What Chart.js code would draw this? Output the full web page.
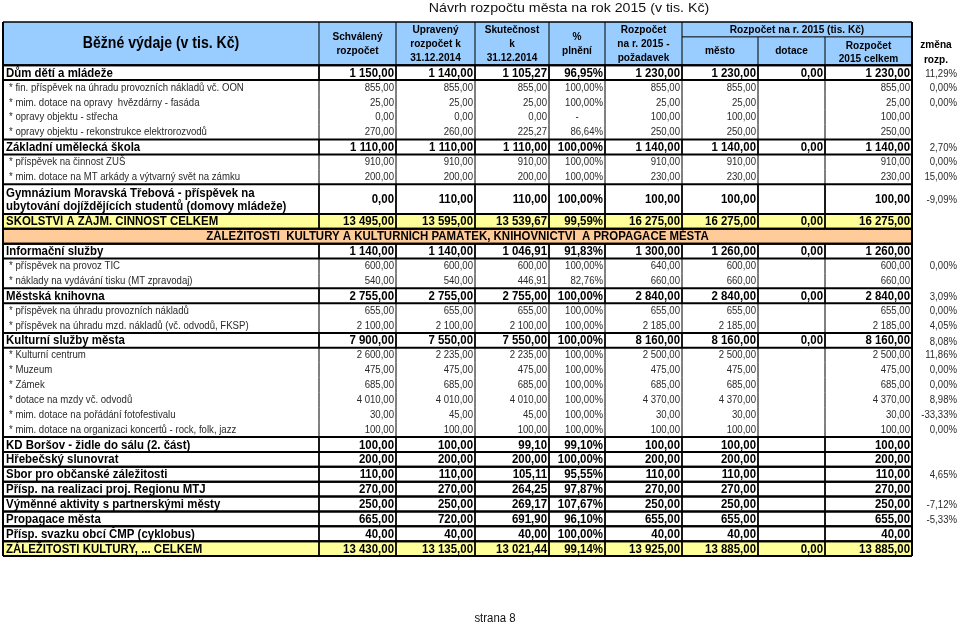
<!DOCTYPE html>
<html>
<head>
<meta charset="utf-8">
<script src="https://cdn.jsdelivr.net/npm/chart.js@4.4.0/dist/chart.umd.min.js"></script>
<style>
html, body { margin: 0; padding: 0; background: #fff; }
#wrap { width: 960px; height: 626px; }
</style>
</head>
<body>
<div id="wrap"><canvas id="tableCanvas"></canvas></div>
<script>
// row labels and row kinds (s = sub item, b = bold item, b2 = bold two lines, t = total, g = group header)
const rowLabels = [
    "Dům dětí a mládeže",
    "* fin. příspěvek na úhradu provozních nákladů vč. OON",
    "* mim. dotace na opravy  hvězdárny - fasáda",
    "* opravy objektu - střecha",
    "* opravy objektu - rekonstrukce elektrorozvodů",
    "Základní umělecká škola",
    "* příspěvek na činnost ZUŠ",
    "* mim. dotace na MT arkády a výtvarný svět na zámku",
    "Gymnázium Moravská Třebová - příspěvek na|ubytování dojíždějících studentů (domovy mládeže)",
    "ŠKOLSTVÍ A ZÁJM. ČINNOST CELKEM",
    "ZÁLEŽITOSTI  KULTURY A KULTURNÍCH PAMÁTEK, KNIHOVNICTVÍ  A PROPAGACE MĚSTA",
    "Informační služby",
    "* příspěvek na provoz TIC",
    "* náklady na vydávání tisku (MT zpravodaj)",
    "Městská knihovna",
    "* příspěvek na úhradu provozních nákladů",
    "* příspěvek na úhradu mzd. nákladů (vč. odvodů, FKSP)",
    "Kulturní služby města",
    "* Kulturní centrum",
    "* Muzeum",
    "* Zámek",
    "* dotace na mzdy vč. odvodů",
    "* mim. dotace na pořádání fotofestivalu",
    "* mim. dotace na organizaci koncertů - rock, folk, jazz",
    "KD Boršov - židle do sálu (2. část)",
    "Hřebečský slunovrat",
    "Sbor pro občanské záležitosti",
    "Přísp. na realizaci proj. Regionu MTJ",
    "Výměnné aktivity s partnerskými městy",
    "Propagace města",
    "Přísp. svazku obcí ČMP (cyklobus)",
    "ZÁLEŽITOSTI KULTURY, ... CELKEM"
];
const rowKinds = ["b","s","s","s","s","b","s","s","b2","t","g","b","s","s","b","s","s","b","s","s","s","s","s","s","b","b","b","b","b","b","b","t"];

const schvaleny  = [1150, 855, 25, 0, 270, 1110, 910, 200, 0, 13495, null, 1140, 600, 540, 2755, 655, 2100, 7900, 2600, 475, 685, 4010, 30, 100, 100, 200, 110, 270, 250, 665, 40, 13430];
const upraveny   = [1140, 855, 25, 0, 260, 1110, 910, 200, 110, 13595, null, 1140, 600, 540, 2755, 655, 2100, 7550, 2235, 475, 685, 4010, 45, 100, 100, 200, 110, 270, 250, 720, 40, 13135];
const skutecnost = [1105.27, 855, 25, 0, 225.27, 1110, 910, 200, 110, 13539.67, null, 1046.91, 600, 446.91, 2755, 655, 2100, 7550, 2235, 475, 685, 4010, 45, 100, 99.10, 200, 105.11, 264.25, 269.17, 691.90, 40, 13021.44];
const plneni     = [96.95, 100, 100, null, 86.64, 100, 100, 100, 100, 99.59, null, 91.83, 100, 82.76, 100, 100, 100, 100, 100, 100, 100, 100, 100, 100, 99.10, 100, 95.55, 97.87, 107.67, 96.10, 100, 99.14];
const pozadavek  = [1230, 855, 25, 100, 250, 1140, 910, 230, 100, 16275, null, 1300, 640, 660, 2840, 655, 2185, 8160, 2500, 475, 685, 4370, 30, 100, 100, 200, 110, 270, 250, 655, 40, 13925];
const mesto      = [1230, 855, 25, 100, 250, 1140, 910, 230, 100, 16275, null, 1260, 600, 660, 2840, 655, 2185, 8160, 2500, 475, 685, 4370, 30, 100, 100, 200, 110, 270, 250, 655, 40, 13885];
const dotace     = [0, null, null, null, null, 0, null, null, null, 0, null, 0, null, null, 0, null, null, 0, null, null, null, null, null, null, null, null, null, null, null, null, null, 0];
const celkem     = [1230, 855, 25, 100, 250, 1140, 910, 230, 100, 16275, null, 1260, 600, 660, 2840, 655, 2185, 8160, 2500, 475, 685, 4370, 30, 100, 100, 200, 110, 270, 250, 655, 40, 13885];
const zmena      = [11.29, 0, 0, null, null, 2.70, 0, 15.00, -9.09, null, null, null, 0, null, 3.09, 0, 4.05, 8.08, 11.86, 0, 0, 8.98, -33.33, 0, null, null, 4.65, null, -7.12, -5.33, null, null];

const headerTexts = [
    ["Schválený", "rozpočet"],
    ["Upravený", "rozpočet k", "31.12.2014"],
    ["Skutečnost", "k", "31.12.2014"],
    ["%", "plnění"],
    ["Rozpočet", "na r. 2015 -", "požadavek"],
    ["město"],
    ["dotace"],
    ["Rozpočet", "2015 celkem"]
];

// layout
const colEdges = [3, 319, 396, 475, 549, 605, 682, 758, 825, 912];
const zmenaRight = 957;
const headerUnits = 2.9;
const FONT = "'Liberation Sans', Arial, sans-serif";
const SQ = 0.88; // the original print is a bit condensed

function fmt(v) {
    if (v === null || v === undefined) return "";
    const parts = Math.abs(v).toFixed(2).split(".");
    const whole = parts[0].replace(/\B(?=(\d{3})+(?!\d))/g, " ");
    return (v < 0 ? "-" : "") + whole + "," + parts[1];
}

// row start positions in row units
const rowStart = [];
let u = headerUnits;
rowKinds.forEach(k => { rowStart.push(u); u += (k === "b2" ? 2 : 1); });
const totalUnits = u;

function drawText(ctx, text, x, y, align, font, color, sx) {
    ctx.save();
    ctx.font = font;
    ctx.fillStyle = color;
    ctx.textAlign = align;
    ctx.textBaseline = "middle";
    ctx.translate(x, y);
    ctx.scale(sx, 1);
    ctx.fillText(text, 0, 0);
    ctx.restore();
}

const tablePlugin = {
    id: 'tablePlugin',
    afterDraw(chart) {
        const ctx = chart.ctx;
        const xs = chart.scales.x, ys = chart.scales.y;
        const px = v => xs.getPixelForValue(v);
        const py = v => ys.getPixelForValue(v);
        const L = px(colEdges[0]), R = px(colEdges[9]);
        const bold = "bold 13px " + FONT;
        const small = "10px " + FONT;
        const head = "bold 11.5px " + FONT;

        // title
        drawText(ctx, "Návrh rozpočtu města na rok 2015 (v tis. Kč)", px(569), 8, "center", "13.5px " + FONT, "#111", 1.05);

        // backgrounds
        ctx.fillStyle = "#99CCFF";
        ctx.fillRect(L, py(0), R - L, py(headerUnits) - py(0));
        rowKinds.forEach((k, i) => {
            if (k === "t" || k === "g") {
                ctx.fillStyle = k === "t" ? "#FFFF99" : "#FFCC99";
                ctx.fillRect(L, py(rowStart[i]), R - L, py(rowStart[i] + 1) - py(rowStart[i]));
            }
        });

        // header text
        drawText(ctx, "Běžné výdaje (v tis. Kč)", (L + px(colEdges[1])) / 2, py(headerUnits * 0.5), "center", "bold 16px " + FONT, "#000", SQ);
        headerTexts.forEach((lines, c) => {
            const cx = (px(colEdges[c + 1]) + px(colEdges[c + 2])) / 2;
            let ys0;
            if (c >= 5) {
                ys0 = lines.length === 1 ? [1.95] : [1.6, 2.5];
            } else {
                ys0 = lines.length === 3 ? [0.54, 1.48, 2.42] : [1.0, 1.95];
            }
            lines.forEach((t, j) => drawText(ctx, t, cx, py(ys0[j]), "center", head, "#000", SQ));
        });
        drawText(ctx, "Rozpočet na r. 2015 (tis. Kč)", (px(colEdges[6]) + R) / 2, py(0.5), "center", head, "#000", SQ);
        drawText(ctx, "změna", px(936), py(1.55), "center", head, "#000", SQ);
        drawText(ctx, "rozp.", px(936), py(2.55), "center", head, "#000", SQ);

        // rows
        const valueCols = [schvaleny, upraveny, skutecnost, plneni, pozadavek, mesto, dotace, celkem];
        rowKinds.forEach((k, i) => {
            const h = k === "b2" ? 2 : 1;
            const cy = py(rowStart[i] + h / 2) + 0.5;
            if (k === "g") {
                drawText(ctx, rowLabels[i], (L + R) / 2, cy, "center", bold, "#000", SQ);
                return;
            }
            const sub = k === "s";
            const font = sub ? small : bold;
            const color = sub ? "#2a2a2a" : "#000";
            const sx = sub ? 0.96 : SQ;
            if (k === "b2") {
                const parts = rowLabels[i].split("|");
                drawText(ctx, parts[0], L + 3, py(rowStart[i] + 0.6), "left", font, color, sx);
                drawText(ctx, parts[1], L + 3, py(rowStart[i] + 1.5), "left", font, color, sx);
            } else {
                drawText(ctx, rowLabels[i], L + (sub ? 6 : 3), cy, "left", font, color, sx);
            }
            valueCols.forEach((arr, c) => {
                const right = px(colEdges[c + 2]) - 2;
                const v = arr[i];
                if (c === 3 && v === null) {
                    drawText(ctx, "-", (px(colEdges[4]) + px(colEdges[5])) / 2, cy, "center", font, color, sx);
                } else if (v !== null) {
                    drawText(ctx, fmt(v) + (c === 3 ? "%" : ""), right, cy, "right", font, color, sx);
                }
            });
            if (zmena[i] !== null) {
                drawText(ctx, fmt(zmena[i]) + "%", px(zmenaRight), cy + (sub ? 0 : 1), "right", small, "#2a2a2a", 0.96);
            }
        });

        // lines
        ctx.save();
        ctx.strokeStyle = "#000";
        const hline = (y, x0, x1, w) => { ctx.lineWidth = w; ctx.beginPath(); ctx.moveTo(x0, y); ctx.lineTo(x1, y); ctx.stroke(); };
        const vline = (x, y0, y1, w) => { ctx.lineWidth = w; ctx.beginPath(); ctx.moveTo(x, y0); ctx.lineTo(x, y1); ctx.stroke(); };

        // header grid
        hline(py(0), L, R, 1.5);
        hline(py(headerUnits), L, R, 2);
        hline(py(1.0), px(colEdges[6]), R, 1);
        for (let c = 1; c <= 6; c++) vline(px(colEdges[c]), py(0), py(headerUnits), 1);
        for (let c = 7; c <= 8; c++) vline(px(colEdges[c]), py(1.0), py(headerUnits), 1);

        rowKinds.forEach((k, i) => {
            const h = k === "b2" ? 2 : 1;
            const y0 = py(rowStart[i]), y1 = py(rowStart[i] + h);
            if (k !== "s") {
                hline(y0, L, R, 2);
                hline(y1, L, R, 2);
            }
            if (k !== "g") {
                for (let c = 1; c <= 8; c++) vline(px(colEdges[c]), y0, y1, k === "s" ? 1 : 1.8);
            }
        });
        vline(L, py(0), py(totalUnits), 2);
        vline(R, py(0), py(totalUnits), 2);
        ctx.restore();

        // footer
        drawText(ctx, "strana 8", px(495), 619, "center", "12px " + FONT, "#111", 0.95);
    }
};

const ctx = document.getElementById('tableCanvas').getContext('2d');
const tableChart = new Chart(ctx, {
    type: 'scatter',
    data: { labels: rowLabels, datasets: [] },
    options: {
        responsive: true,
        maintainAspectRatio: false,
        animation: false,
        devicePixelRatio: 1,
        layout: { padding: { top: 22, bottom: 70, left: 0, right: 0 } },
        plugins: { legend: { display: false }, tooltip: { enabled: false } },
        scales: {
            x: { type: 'linear', min: 0, max: 960, offset: false, display: false },
            y: { type: 'linear', min: 0, max: totalUnits, offset: false, reverse: true, display: false }
        }
    },
    plugins: [tablePlugin]
});
</script>
</body>
</html>
